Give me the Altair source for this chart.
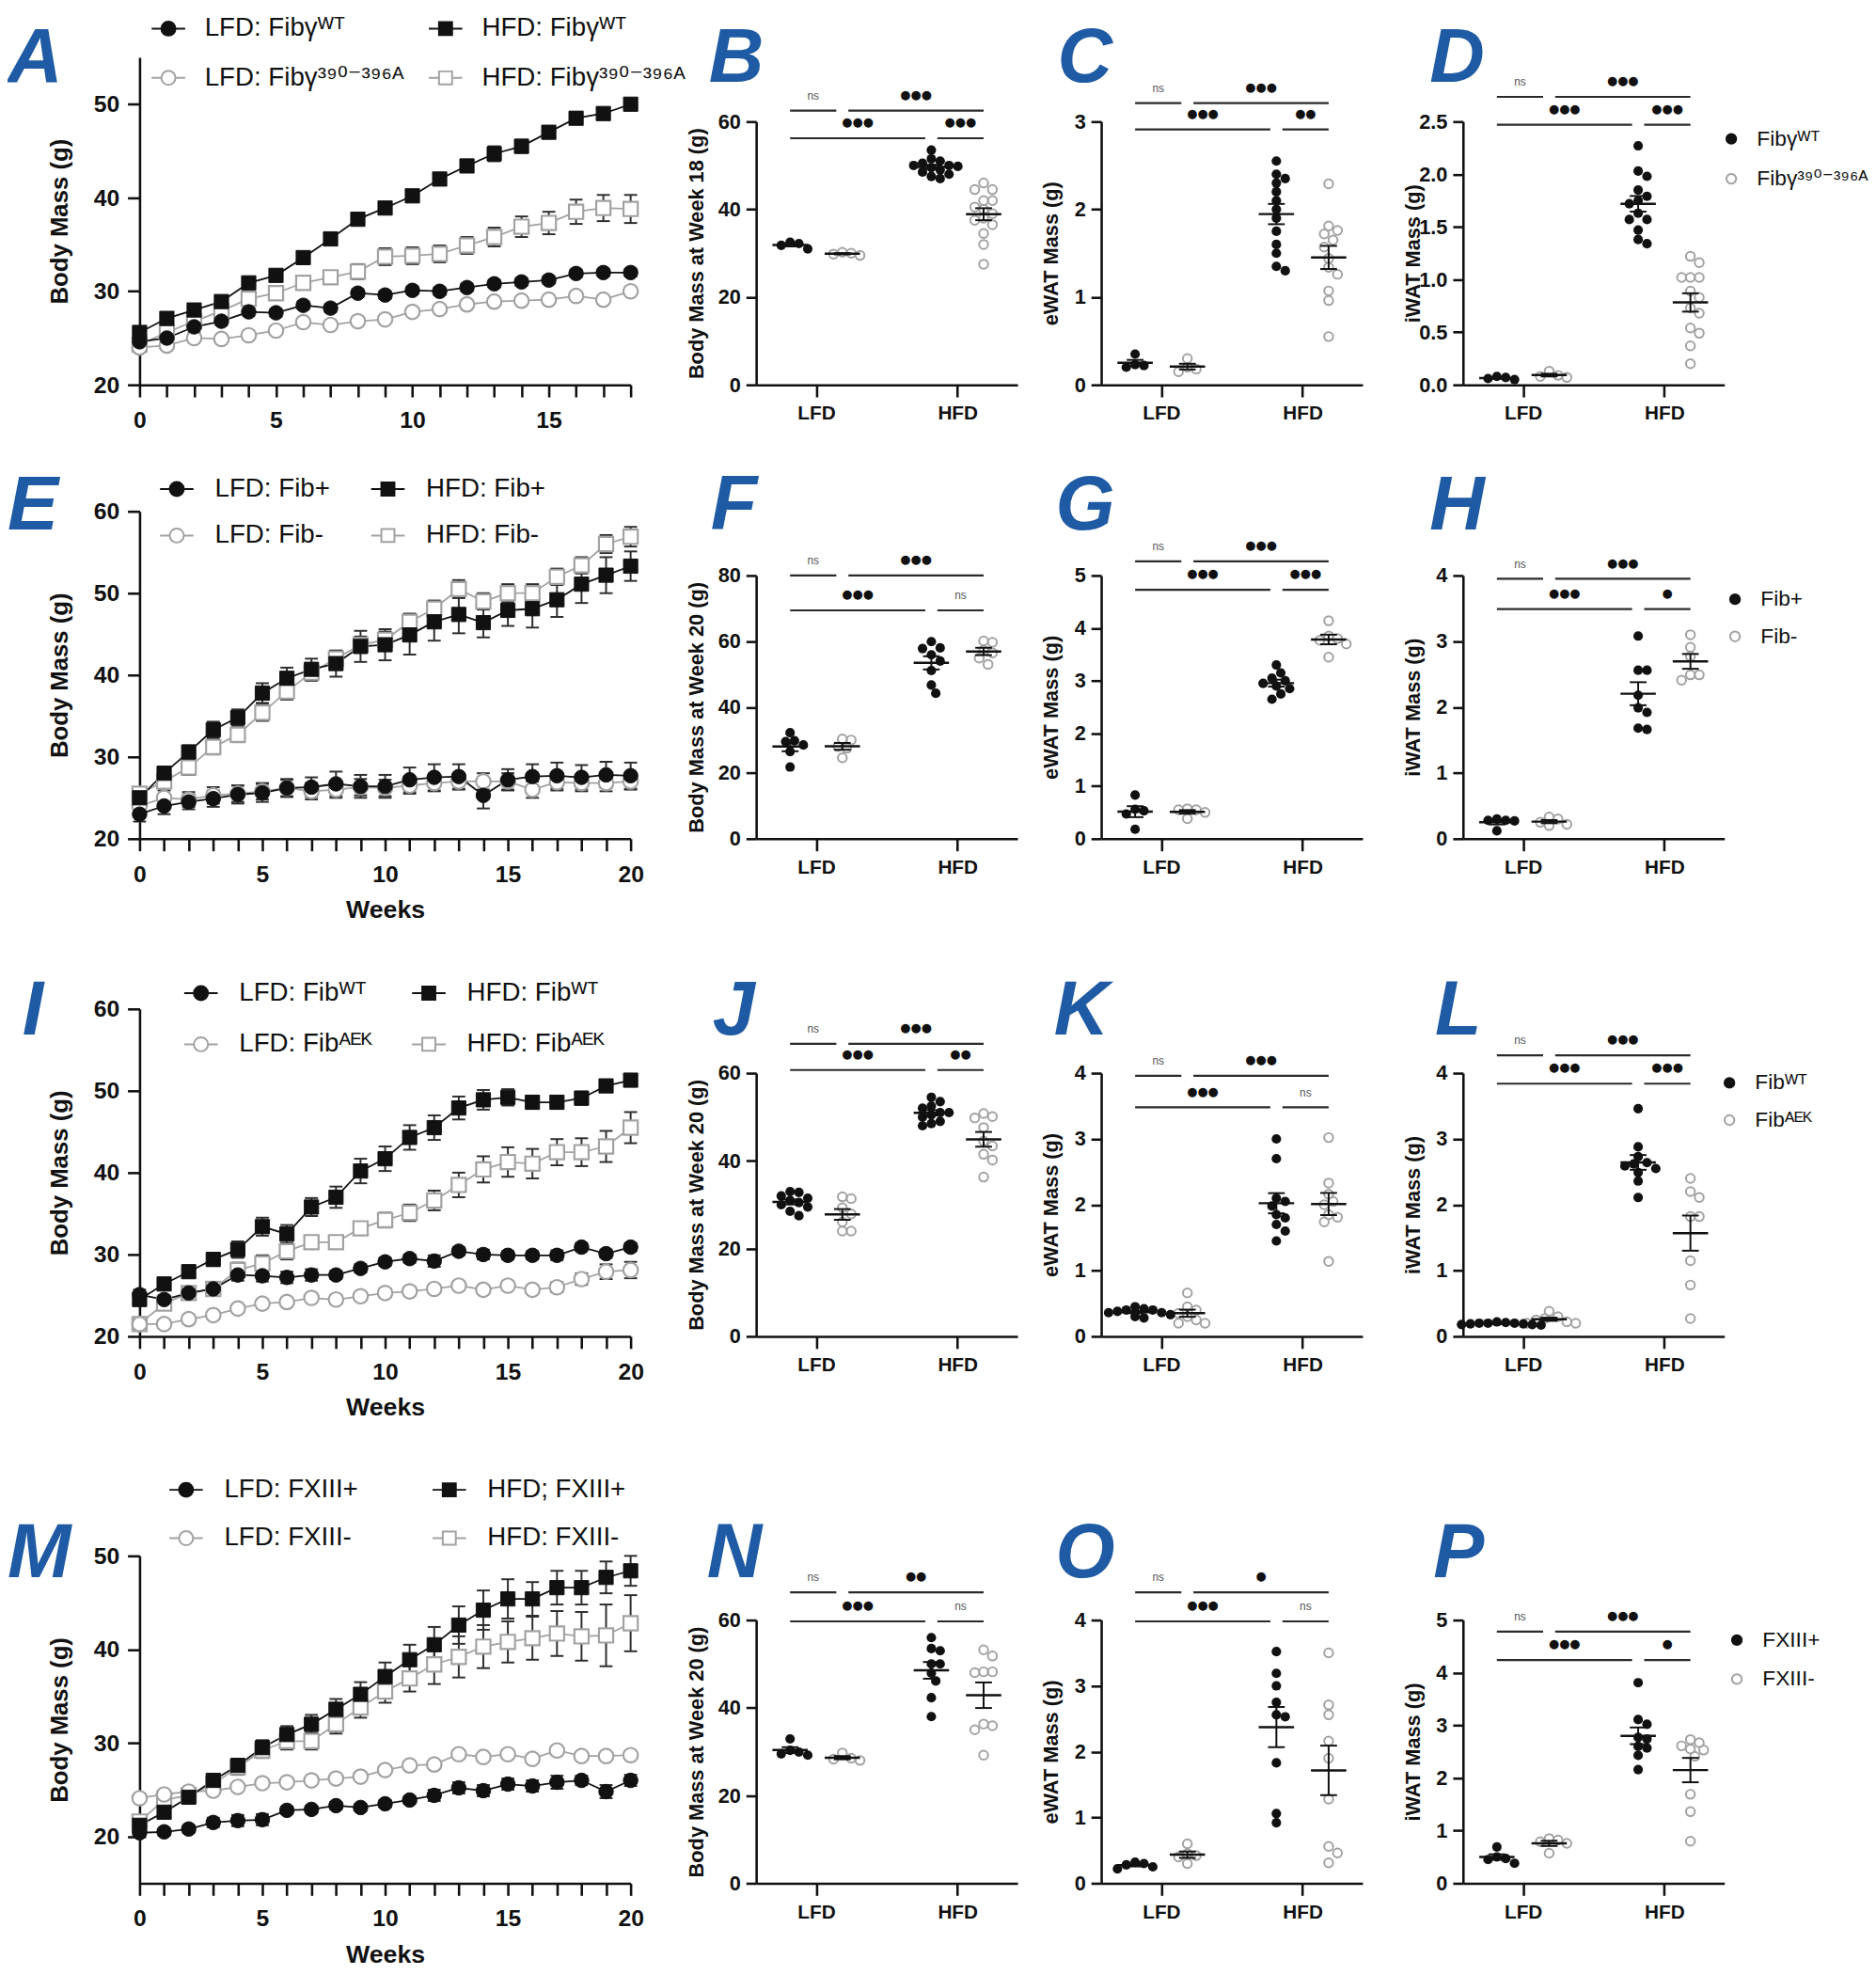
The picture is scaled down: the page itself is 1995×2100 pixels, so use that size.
import math
import altair as alt
import pandas as pd

# ----------------------------------------------------------------- data
WEEKS_18 = list(range(0, 19))
WEEKS_20 = list(range(0, 21))
DIETS = ["LFD", "HFD"]

# ---- A : Fibγ WT vs 390-396A (mean, SEM)
A_LFD_WT = [24.6, 25.0, 26.2, 26.8, 27.8, 27.7, 28.5, 28.2, 29.8, 29.6, 30.1, 30.0, 30.4, 30.8, 31.0, 31.2, 31.9, 32.0, 32.0]
A_LFD_WT_SEM = [0.4, 0.4, 0.6, 0.4, 0.4, 0.4, 0.4, 0.4, 0.4, 0.4, 0.4, 0.4, 0.4, 0.4, 0.4, 0.4, 0.4, 0.4, 0.4]
A_HFD_WT = [25.6, 27.1, 28.0, 28.9, 30.9, 31.7, 33.6, 35.6, 37.7, 38.9, 40.2, 42.0, 43.4, 44.7, 45.5, 47.0, 48.5, 49.0, 50.0]
A_HFD_WT_SEM = [0.4, 0.4, 0.4, 0.4, 0.5, 0.5, 0.5, 0.5, 0.5, 0.5, 0.6, 0.6, 0.6, 0.8, 0.7, 0.6, 0.6, 0.6, 0.6]
A_LFD_MUT = [24.0, 24.2, 25.0, 24.9, 25.3, 25.8, 26.7, 26.4, 26.8, 27.0, 27.8, 28.1, 28.6, 28.9, 29.0, 29.1, 29.5, 29.1, 30.0]
A_LFD_MUT_SEM = [0.3, 0.3, 0.3, 0.3, 0.3, 0.3, 0.3, 0.3, 0.3, 0.3, 0.3, 0.3, 0.3, 0.3, 0.3, 0.3, 0.3, 0.3, 0.3]
A_HFD_MUT = [24.3, 25.6, 26.8, 27.9, 29.2, 29.8, 30.9, 31.5, 32.1, 33.7, 33.8, 34.0, 34.9, 35.8, 36.9, 37.3, 38.5, 38.9, 38.8]
A_HFD_MUT_SEM = [0.4, 0.5, 0.7, 0.6, 0.6, 0.6, 0.6, 0.6, 0.8, 0.9, 0.9, 0.9, 0.9, 1.0, 1.1, 1.2, 1.3, 1.4, 1.5]

# ---- E : Fib+ vs Fib-
E_LFD_WT = [23.0, 24.0, 24.5, 24.9, 25.4, 25.6, 26.2, 26.3, 26.7, 26.4, 26.4, 27.2, 27.5, 27.6, 25.3, 27.2, 27.6, 27.7, 27.5, 27.8, 27.7]
E_LFD_WT_SEM = [0.9, 1.0, 0.9, 1.0, 1.1, 1.1, 1.1, 1.2, 1.5, 1.4, 1.4, 1.5, 1.6, 1.5, 1.6, 1.3, 1.5, 1.6, 1.5, 1.6, 1.6]
E_HFD_WT = [25.0, 28.0, 30.6, 33.3, 34.8, 37.8, 39.6, 40.7, 41.4, 43.5, 43.7, 44.9, 46.5, 47.4, 46.4, 47.9, 48.1, 49.2, 51.1, 52.2, 53.3]
E_HFD_WT_SEM = [0.8, 0.8, 0.8, 1.0, 1.0, 1.2, 1.3, 1.3, 1.6, 1.9, 1.9, 2.4, 2.3, 2.3, 1.8, 1.9, 2.3, 2.1, 2.3, 2.2, 1.8]
E_LFD_MUT = [24.0, 25.0, 24.8, 25.3, 25.5, 25.8, 26.2, 25.8, 26.0, 26.3, 26.2, 26.5, 26.8, 27.0, 27.0, 27.0, 26.0, 26.9, 26.8, 26.8, 27.0]
E_LFD_MUT_SEM = [1.0, 0.9, 0.9, 1.0, 1.0, 1.0, 1.0, 1.0, 1.0, 1.0, 1.0, 1.0, 1.0, 1.0, 1.0, 1.0, 1.0, 1.0, 1.0, 1.0, 1.0]
E_HFD_MUT = [25.5, 27.0, 28.7, 31.2, 32.7, 35.4, 38.0, 40.3, 42.0, 43.7, 44.3, 46.5, 48.1, 50.5, 49.0, 50.0, 50.0, 52.0, 53.4, 56.0, 56.9]
E_HFD_MUT_SEM = [0.8, 0.8, 0.9, 0.9, 0.9, 1.0, 1.0, 1.0, 0.9, 1.0, 1.0, 1.0, 1.0, 1.1, 1.0, 1.1, 1.1, 1.0, 1.0, 1.1, 1.2]

# ---- I : FibWT vs FibAEK
I_LFD_WT = [25.1, 24.5, 25.3, 25.8, 27.5, 27.4, 27.2, 27.5, 27.5, 28.3, 29.1, 29.5, 29.2, 30.4, 30.0, 29.9, 29.9, 29.9, 30.9, 30.1, 30.9]
I_LFD_WT_SEM = [0.6, 0.5, 0.5, 0.6, 0.7, 0.7, 0.7, 0.7, 0.5, 0.5, 0.5, 0.5, 0.7, 0.5, 0.6, 0.5, 0.5, 0.6, 0.5, 0.5, 0.5]
I_HFD_WT = [24.5, 26.4, 27.9, 29.4, 30.6, 33.4, 32.5, 35.8, 37.0, 40.2, 41.7, 44.3, 45.5, 47.9, 48.9, 49.2, 48.6, 48.6, 49.1, 50.6, 51.3]
I_HFD_WT_SEM = [0.7, 0.7, 0.7, 0.8, 1.0, 1.1, 1.1, 1.1, 1.3, 1.5, 1.5, 1.5, 1.5, 1.4, 1.2, 1.0, 0.8, 0.8, 0.8, 0.7, 0.6]
I_LFD_MUT = [21.5, 21.5, 22.1, 22.6, 23.4, 24.0, 24.2, 24.7, 24.5, 24.9, 25.3, 25.5, 25.8, 26.2, 25.7, 26.2, 25.7, 26.0, 27.0, 27.9, 28.1]
I_LFD_MUT_SEM = [0.6, 0.5, 0.5, 0.5, 0.5, 0.5, 0.5, 0.5, 0.5, 0.5, 0.5, 0.5, 0.5, 0.5, 0.5, 0.5, 0.5, 0.6, 0.7, 0.9, 1.0]
I_HFD_MUT = [21.5, 24.0, 25.3, 25.8, 28.1, 28.9, 30.4, 31.5, 31.5, 33.2, 34.2, 35.1, 36.6, 38.5, 40.4, 41.3, 41.1, 42.5, 42.5, 43.2, 45.5]
I_HFD_MUT_SEM = [0.6, 0.6, 0.7, 0.8, 0.9, 1.0, 1.0, 0.8, 0.8, 0.8, 0.9, 1.0, 1.2, 1.5, 1.6, 1.8, 1.8, 1.6, 1.7, 1.9, 1.9]

# ---- M : FXIII+ vs FXIII-
M_LFD_WT = [20.4, 20.5, 20.8, 21.5, 21.7, 21.8, 22.8, 22.9, 23.3, 23.1, 23.5, 23.9, 24.4, 25.2, 24.9, 25.6, 25.4, 25.8, 26.0, 24.8, 26.0]
M_LFD_WT_SEM = [0.5, 0.4, 0.4, 0.5, 0.6, 0.6, 0.4, 0.4, 0.4, 0.4, 0.4, 0.4, 0.6, 0.6, 0.6, 0.6, 0.6, 0.7, 0.5, 0.7, 0.6]
M_HFD_WT = [21.2, 22.6, 24.2, 26.0, 27.6, 29.5, 30.9, 32.0, 33.6, 35.2, 37.1, 38.9, 40.5, 42.6, 44.2, 45.4, 45.4, 46.6, 46.6, 47.7, 48.4]
M_HFD_WT_SEM = [0.6, 0.6, 0.6, 0.6, 0.7, 0.8, 0.9, 1.0, 1.1, 1.3, 1.5, 1.6, 1.9, 2.0, 2.1, 2.1, 1.8, 1.8, 1.8, 1.7, 1.6]
M_LFD_MUT = [24.1, 24.5, 24.8, 24.9, 25.3, 25.7, 25.8, 26.0, 26.2, 26.4, 27.1, 27.6, 27.7, 28.8, 28.5, 28.8, 28.3, 29.2, 28.6, 28.6, 28.7]
M_LFD_MUT_SEM = [0.4, 0.4, 0.4, 0.4, 0.4, 0.4, 0.4, 0.4, 0.4, 0.4, 0.4, 0.4, 0.4, 0.4, 0.4, 0.4, 0.4, 0.4, 0.4, 0.4, 0.4]
M_HFD_MUT = [21.6, 23.9, 24.4, 25.6, 27.4, 29.2, 30.2, 30.2, 32.0, 33.8, 35.5, 36.9, 38.4, 39.2, 40.3, 40.8, 41.2, 41.7, 41.4, 41.5, 42.8]
M_HFD_MUT_SEM = [0.6, 0.6, 0.6, 0.7, 0.8, 0.8, 0.9, 0.9, 1.0, 1.1, 1.2, 1.4, 2.1, 2.2, 2.3, 2.2, 2.3, 2.4, 2.6, 3.3, 3.0]

# legend order: LFD-WT, LFD-MUT, HFD-WT, HFD-MUT
LABELS_A = ["LFD: Fibγᵂᵀ", "LFD: Fibγ³⁹⁰⁻³⁹⁶ᴬ", "HFD: Fibγᵂᵀ", "HFD: Fibγ³⁹⁰⁻³⁹⁶ᴬ"]
LABELS_E = ["LFD: Fib+", "LFD: Fib-", "HFD: Fib+", "HFD: Fib-"]
LABELS_I = ["LFD: Fibᵂᵀ", "LFD: Fibᴬᴱᴷ", "HFD: Fibᵂᵀ", "HFD: Fibᴬᴱᴷ"]
LABELS_M = ["LFD: FXIII+", "LFD: FXIII-", "HFD; FXIII+", "HFD: FXIII-"]

GENO_A = ["Fibγᵂᵀ", "Fibγ³⁹⁰⁻³⁹⁶ᴬ"]
GENO_E = ["Fib+", "Fib-"]
GENO_I = ["Fibᵂᵀ", "Fibᴬᴱᴷ"]
GENO_M = ["FXIII+", "FXIII-"]

# ---- dot plots: order LFD-WT, LFD-MUT, HFD-WT, HFD-MUT
B_LFD_WT = [31.0, 32.2, 32.5, 31.8]
B_LFD_MUT = [29.5, 30.0, 30.2, 29.8]
B_HFD_WT = [53.5, 51.5, 51.0, 50.5, 50.0, 50.0, 49.5, 49.0, 48.5, 48.0, 47.5, 47.0, 49.8]
B_HFD_MUT = [46.0, 44.5, 44.5, 42.0, 42.0, 40.5, 40.0, 39.0, 38.0, 37.5, 36.5, 34.5, 32.0, 27.5]
C_LFD_WT = [0.22, 0.35, 0.20, 0.23]
C_LFD_MUT = [0.18, 0.30, 0.15, 0.20]
C_HFD_WT = [2.55, 2.40, 2.35, 2.30, 2.20, 2.10, 2.00, 1.90, 1.75, 1.60, 1.50, 1.35, 1.30]
C_HFD_MUT = [2.29, 1.81, 1.76, 1.72, 1.65, 1.57, 1.44, 1.34, 1.26, 1.07, 0.96, 0.55]
D_LFD_WT = [0.06, 0.08, 0.07, 0.05]
D_LFD_MUT = [0.13, 0.08, 0.09, 0.07]
D_HFD_WT = [2.27, 2.03, 1.98, 1.85, 1.79, 1.75, 1.72, 1.63, 1.57, 1.57, 1.47, 1.38, 1.34]
D_HFD_MUT = [1.22, 1.16, 1.02, 1.02, 1.02, 0.89, 0.83, 0.73, 0.68, 0.54, 0.49, 0.37, 0.20]

F_LFD_WT = [32.2, 29.8, 29.5, 28.5, 26.5, 21.8]
F_LFD_MUT = [30.3, 30.0, 28.0, 27.5, 24.6]
F_HFD_WT = [59.9, 57.8, 58.0, 55.9, 54.0, 51.1, 46.7, 44.2]
F_HFD_MUT = [60.1, 59.7, 57.3, 56.5, 54.9, 53.0]
G_LFD_WT = [0.83, 0.56, 0.53, 0.47, 0.18]
G_LFD_MUT = [0.57, 0.55, 0.55, 0.50, 0.38]
G_HFD_WT = [3.30, 3.15, 3.05, 3.00, 2.95, 2.90, 2.85, 2.75, 2.65]
G_HFD_MUT = [4.14, 3.85, 3.80, 3.77, 3.70, 3.45]
H_LFD_WT = [0.30, 0.28, 0.28, 0.27, 0.12]
H_LFD_MUT = [0.33, 0.30, 0.25, 0.22, 0.20]
H_HFD_WT = [3.08, 2.56, 2.56, 2.18, 1.92, 1.99, 1.66, 1.68]
H_HFD_MUT = [3.10, 2.91, 2.77, 2.49, 2.49, 2.41]

J_LFD_WT = [33.0, 32.8, 32.0, 31.5, 31.0, 30.5, 30.0, 29.5, 28.5, 27.5]
J_LFD_MUT = [31.8, 31.4, 29.3, 27.9, 26.1, 24.0, 24.0]
J_HFD_WT = [54.5, 53.5, 52.5, 52.0, 51.0, 51.0, 50.5, 50.0, 49.0, 48.5, 48.0]
J_HFD_MUT = [50.8, 50.1, 49.8, 47.6, 44.5, 43.4, 41.5, 40.2, 36.3]
K_LFD_WT = [0.45, 0.42, 0.40, 0.40, 0.38, 0.36, 0.36, 0.33, 0.30, 0.28]
K_LFD_MUT = [0.66, 0.45, 0.40, 0.35, 0.30, 0.25, 0.20, 0.20]
K_HFD_WT = [3.00, 2.70, 2.10, 2.05, 1.98, 1.85, 1.80, 1.70, 1.60, 1.45]
K_HFD_MUT = [3.02, 2.33, 2.16, 2.05, 2.00, 1.85, 1.81, 1.74, 1.14]
L_LFD_WT = [0.22, 0.21, 0.20, 0.20, 0.20, 0.19, 0.19, 0.18, 0.18, 0.17]
L_LFD_MUT = [0.38, 0.30, 0.27, 0.25, 0.22, 0.20, 0.20]
L_HFD_WT = [3.46, 2.88, 2.73, 2.64, 2.62, 2.59, 2.55, 2.49, 2.36, 2.11]
L_HFD_MUT = [2.40, 2.20, 2.11, 1.82, 1.82, 1.15, 0.78, 0.27]

N_LFD_WT = [32.9, 30.3, 29.9, 29.5, 29.2]
N_LFD_MUT = [29.7, 28.5, 28.3, 28.0]
N_HFD_WT = [56.0, 53.0, 53.5, 50.0, 50.0, 47.9, 46.1, 42.3, 38.0]
N_HFD_MUT = [53.2, 51.8, 48.0, 48.2, 48.2, 36.3, 35.9, 35.0, 29.2]
O_LFD_WT = [0.32, 0.30, 0.28, 0.25, 0.22]
O_LFD_MUT = [0.60, 0.45, 0.42, 0.40, 0.30]
O_HFD_WT = [3.52, 3.19, 3.00, 2.75, 2.56, 2.53, 1.83, 1.06, 0.92]
O_HFD_MUT = [3.50, 2.71, 2.56, 2.16, 1.90, 1.28, 0.56, 0.46, 0.31]
P_LFD_WT = [0.69, 0.50, 0.47, 0.45, 0.38]
P_LFD_MUT = [0.85, 0.82, 0.79, 0.76, 0.57]
P_HFD_WT = [3.81, 3.11, 3.02, 2.77, 2.74, 2.60, 2.57, 2.43, 2.16]
P_HFD_MUT = [2.73, 2.67, 2.61, 2.55, 2.53, 2.41, 1.69, 1.36, 0.80]

# significance: LFD-WT vs LFD-MUT, LFD-MUT vs HFD-MUT, LFD-WT vs HFD-WT, HFD-WT vs HFD-MUT
SIG_B = ["ns", "●●●", "●●●", "●●●"]; SIG_Y_B = [62.5, 56.2]
SIG_C = ["ns", "●●●", "●●●", "●●"]; SIG_Y_C = [3.21, 2.91]
SIG_D = ["ns", "●●●", "●●●", "●●●"]; SIG_Y_D = [2.735, 2.47]
SIG_F = ["ns", "●●●", "●●●", "ns"]; SIG_Y_F = [80.0, 69.4]
SIG_G = ["ns", "●●●", "●●●", "●●●"]; SIG_Y_G = [5.27, 4.73]
SIG_H = ["ns", "●●●", "●●●", "●"]; SIG_Y_H = [3.95, 3.49]
SIG_J = ["ns", "●●●", "●●●", "●●"]; SIG_Y_J = [66.7, 60.7]
SIG_K = ["ns", "●●●", "●●●", "ns"]; SIG_Y_K = [3.96, 3.48]
SIG_L = ["ns", "●●●", "●●●", "●●●"]; SIG_Y_L = [4.27, 3.84]
SIG_N = ["ns", "●●", "●●●", "ns"]; SIG_Y_N = [66.3, 59.7]
SIG_O = ["ns", "●", "●●●", "ns"]; SIG_Y_O = [4.42, 3.98]
SIG_P = ["ns", "●●●", "●●●", "●"]; SIG_Y_P = [4.78, 4.24]

# ----------------------------------------------------------------- style / layout
FONT = "Liberation Sans, DejaVu Sans"
INK = "#111111"
GRAY = "#a2a2a2"
ERR = "#2e2e2e"
BLUE = "#1f5ba4"

LINE_W = 528
LINE_EXT = 45
DOT_W = 281
DOT_EXT3 = 18
BASE_H = 352
DOT_TOP = 69
ROW_EXTRA = [50, 50, 97, 150]
ROW_SP = 86
COL_SP = 90
TITLE_BASE = 80
LETTER_Y = [78, 72, 126, 175]

OFF = 0.185
XDOM = [-0.425, 1.425]
PXU = DOT_W / (XDOM[1] - XDOM[0])
GAP = 6.5 / PXU
MEAN_HW = 19 / PXU
CAP_HW = 9 / PXU

SEG = "M-1,0L-0.42,0M0.42,0L1,0"
CIRC = "M-0.42,0A0.42,0.42,0,1,1,0.42,0A0.42,0.42,0,1,1,-0.42,0Z"
SQR = "M-0.39,-0.39L0.39,-0.39L0.39,0.39L-0.39,0.39Z"


def letter_title(txt, dx, row):
    return alt.TitleParams(text=txt, anchor="start", frame="group", orient="top", offset=0,
                           dx=dx, dy=LETTER_Y[row] + TITLE_BASE, baseline="alphabetic",
                           font=FONT, fontSize=82, fontStyle="italic", fontWeight="bold",
                           color=BLUE)


def swarm_offsets(vals, ppu, d):
    order = sorted(range(len(vals)), key=lambda i: -vals[i])
    placed, off = [], [0.0] * len(vals)
    for i in order:
        y = vals[i] * ppu
        k = 0
        while True:
            cands = [0.0] if k == 0 else [k * d * 0.5, -k * d * 0.5]
            hit = None
            for cx in cands:
                if all((cx - px) ** 2 + (y - py) ** 2 >= 0.9 * d * d for px, py in placed):
                    hit = cx
                    break
            if hit is not None:
                break
            k += 1
        off[i] = hit
        placed.append((hit, y))
    return off


def line_panel(letter, dx, row, weeks, series, labels, ydom, yticks, leg, xtitle):
    extra = ROW_EXTRA[row]
    H = BASE_H + extra
    xmax = weeks[-1]
    cap = 7.0 * xmax / LINE_W
    rows = []
    for key, (mean, sem) in zip(["lw", "lm", "hw", "hm"], series):
        for w, m, s in zip(weeks, mean, sem):
            rows.append({"s": key, "w": w, "wl": w - cap, "wr": w + cap, "m": m, "lo": m - s, "hi": m + s})
    df = pd.DataFrame(rows)
    xsc = alt.Scale(domain=[0, xmax], range=[0, LINE_W], nice=False, zero=False)
    ysc = alt.Scale(domain=ydom, range=[H, extra], nice=False, zero=False)
    xkw = dict(values=weeks, labelExpr="datum.value % 5 === 0 ? datum.label : ''",
               labelFontSize=25, labelPadding=13, tickSize=13, labelFlush=False,
               labelOverlap=False, grid=False)
    if xtitle:
        xkw.update(title=xtitle, titleFontSize=27, titleX=LINE_W / 2, titleY=77,
                   titleAlign="center", titleBaseline="middle")
    else:
        xkw.update(title=None)
    xax = alt.Axis(**xkw)
    yax = alt.Axis(values=yticks, title="Body Mass (g)", labelFontSize=25, labelPadding=9,
                   tickSize=13, titleFontSize=26, titleX=-86, titleY=(H + extra) / 2,
                   titleAlign="center", titleBaseline="middle", titleAngle=-90,
                   labelFlush=False, grid=False)

    def X(f):
        return alt.X(f, type="quantitative", scale=xsc, axis=xax)

    def Y(f):
        return alt.Y(f, type="quantitative", scale=ysc, axis=yax)

    base = alt.Chart(df)
    layers = []
    order = ["hm", "lm", "hw", "lw"]
    for key in order:
        b = base.transform_filter(alt.datum.s == key)
        layers.append(b.mark_rule(color=ERR, strokeWidth=2).encode(x=X("w"), y=Y("lo"), y2="hi"))
        layers.append(b.mark_rule(color=ERR, strokeWidth=2).encode(x=X("wl"), x2="wr", y=Y("lo")))
        layers.append(b.mark_rule(color=ERR, strokeWidth=2).encode(x=X("wl"), x2="wr", y=Y("hi")))
    for key in order:
        col = GRAY if key.endswith("m") else INK
        b = base.transform_filter(alt.datum.s == key)
        layers.append(b.mark_line(color=col, strokeWidth=1.8).encode(x=X("w"), y=Y("m")))
    for key in order:
        b = base.transform_filter(alt.datum.s == key)
        shp = "square" if key.startswith("h") else "circle"
        size = 235 if shp == "square" else 245
        if key.endswith("m"):
            mk = b.mark_point(shape=shp, filled=True, fill="white", stroke=GRAY, strokeWidth=2.2,
                              size=size, opacity=1)
        else:
            mk = b.mark_point(shape=shp, filled=True, fill=INK, stroke=INK, strokeWidth=1,
                              size=size, opacity=1)
        layers.append(mk.encode(x=X("w"), y=Y("m")))

    legend = alt.Legend(title=None, orient="none", legendX=leg[0], legendY=leg[1], columns=2,
                        columnPadding=leg[3], rowPadding=leg[2], symbolSize=1296,
                        symbolStrokeWidth=2, labelFont=FONT, labelFontSize=28,
                        labelColor=INK, labelOffset=leg[4], padding=0, labelLimit=400)
    ldf = pd.DataFrame({"lab": labels})
    leg_layer = alt.Chart(ldf).mark_point(filled=True, opacity=1).encode(
        shape=alt.Shape("lab:N", scale=alt.Scale(domain=labels, range=[SEG + CIRC, SEG + CIRC, SEG + SQR, SEG + SQR]), legend=legend),
        fill=alt.Fill("lab:N", scale=alt.Scale(domain=labels, range=[INK, "white", INK, "white"]), legend=legend),
        stroke=alt.Stroke("lab:N", scale=alt.Scale(domain=labels, range=[INK, GRAY, INK, GRAY]), legend=legend),
    ).transform_filter("false")
    layers.append(leg_layer)
    return alt.layer(*layers).properties(
        width=LINE_W + LINE_EXT, height=H, title=letter_title(letter, dx, row))


def dot_panel(letter, dx, row, groups, ymax, yticks, yfmt, ytitle, title_x, sig, sig_y,
              width, geno=None, leg=None):
    extra = ROW_EXTRA[row]
    H = BASE_H + extra
    top = extra + DOT_TOP
    ppu = (H - top) / ymax
    pts, stats = [], []
    for k, vals in enumerate(groups):
        ci, gi = divmod(k, 2)
        c = ci + (OFF if gi else -OFF)
        offs = swarm_offsets(vals, ppu, 9.5)
        for v, o in zip(vals, offs):
            pts.append({"x": c + o / PXU, "y": v, "g": gi})
        n = len(vals)
        m = sum(vals) / n
        sd = math.sqrt(sum((v - m) ** 2 for v in vals) / (n - 1))
        se = sd / math.sqrt(n)
        stats.append({"c": c, "ml": c - MEAN_HW, "mr": c + MEAN_HW, "cl": c - CAP_HW,
                      "cr": c + CAP_HW, "m": m, "lo": m - se, "hi": m + se})
    pdf = pd.DataFrame(pts)
    sdf = pd.DataFrame(stats)
    lw, lm, hw, hm = -OFF, OFF, 1 - OFF, 1 + OFF
    bars = [(lw, lm - GAP, sig_y[0], sig[0]), (lm + GAP, hm, sig_y[0], sig[1]),
            (lw, hw - GAP, sig_y[1], sig[2]), (hw + GAP, hm, sig_y[1], sig[3])]
    gdf = pd.DataFrame([{"x1": a, "x2": b, "tx": (a + b) / 2, "y": y, "t": t} for a, b, y, t in bars])

    xsc = alt.Scale(domain=XDOM, range=[0, DOT_W], nice=False, zero=False)
    ysc = alt.Scale(domain=[0, ymax], range=[H, top], nice=False, zero=False)
    xax = alt.Axis(values=[0, 1], labelExpr=f"datum.value < 0.5 ? '{DIETS[0]}' : '{DIETS[1]}'",
                   title=None, labelFontSize=21, labelPadding=7, tickSize=13,
                   labelFlush=False, labelOverlap=False, grid=False)
    yax = alt.Axis(values=yticks, format=yfmt, title=ytitle, labelFontSize=22, labelPadding=6,
                   tickSize=11, titleFontSize=22, titleX=title_x, titleY=(H + top) / 2,
                   titleAlign="center", titleBaseline="middle", titleAngle=-90,
                   labelFlush=False, grid=False)

    def X(f):
        return alt.X(f, type="quantitative", scale=xsc, axis=xax)

    def Y(f):
        return alt.Y(f, type="quantitative", scale=ysc, axis=yax)

    P = alt.Chart(pdf)
    S = alt.Chart(sdf)
    G = alt.Chart(gdf)
    layers = [
        P.transform_filter(alt.datum.g == 1).mark_point(shape="circle", filled=False, color=GRAY,
                                                         strokeWidth=2, size=92, opacity=1).encode(x=X("x"), y=Y("y")),
        P.transform_filter(alt.datum.g == 0).mark_point(shape="circle", filled=True, color=INK,
                                                         size=105, opacity=1).encode(x=X("x"), y=Y("y")),
        S.mark_rule(color=INK, strokeWidth=2.5).encode(x=X("ml"), x2="mr", y=Y("m")),
        S.mark_rule(color=INK, strokeWidth=2).encode(x=X("c"), y=Y("lo"), y2="hi"),
        S.mark_rule(color=INK, strokeWidth=2).encode(x=X("cl"), x2="cr", y=Y("lo")),
        S.mark_rule(color=INK, strokeWidth=2).encode(x=X("cl"), x2="cr", y=Y("hi")),
        G.mark_rule(color="#2a2a2a", strokeWidth=2.2).encode(x=X("x1"), x2="x2", y=Y("y")),
        G.transform_filter(alt.datum.t != "ns").mark_text(font="DejaVu Sans", fontSize=13,
                                                           color=INK, baseline="middle", dy=-17).encode(
            x=X("tx"), y=Y("y"), text="t:N"),
        G.transform_filter(alt.datum.t == "ns").mark_text(font=FONT, fontSize=12, color="#555555",
                                                           baseline="alphabetic", dy=-12).encode(
            x=X("tx"), y=Y("y"), text="t:N"),
    ]
    if geno is not None:
        legend = alt.Legend(title=None, orient="none", legendX=leg[0], legendY=leg[1],
                            direction="vertical", rowPadding=leg[2], symbolSize=110,
                            symbolStrokeWidth=2, labelFont=FONT, labelFontSize=23,
                            labelColor=INK, labelOffset=16, padding=0, labelLimit=300)
        ldf = pd.DataFrame({"lab": geno})
        layers.append(alt.Chart(ldf).mark_point(filled=True, opacity=1).encode(
            shape=alt.Shape("lab:N", scale=alt.Scale(domain=geno, range=["circle", "circle"]), legend=legend),
            fill=alt.Fill("lab:N", scale=alt.Scale(domain=geno, range=[INK, "white"]), legend=legend),
            stroke=alt.Stroke("lab:N", scale=alt.Scale(domain=geno, range=[INK, GRAY]), legend=legend),
        ).transform_filter("false"))
    return alt.layer(*layers).properties(width=width, height=H,
                                         title=letter_title(letter, dx, row))


W3 = DOT_W + DOT_EXT3
charts = [
    line_panel("A", -142, 0, WEEKS_18,
               [(A_LFD_WT, A_LFD_WT_SEM), (A_LFD_MUT, A_LFD_MUT_SEM), (A_HFD_WT, A_HFD_WT_SEM), (A_HFD_MUT, A_HFD_MUT_SEM)],
               LABELS_A, [20, 55], [20, 30, 40, 50], (12, 0, 20, 22, 20), None),
    dot_panel("B", -51, 0, [B_LFD_WT, B_LFD_MUT, B_HFD_WT, B_HFD_MUT], 60, [0, 20, 40, 60], "d",
              "Body Mass at Week 18 (g)", -64, SIG_B, SIG_Y_B, DOT_W),
    dot_panel("C", -47, 0, [C_LFD_WT, C_LFD_MUT, C_HFD_WT, C_HFD_MUT], 3, [0, 1, 2, 3], "d",
              "eWAT Mass (g)", -54, SIG_C, SIG_Y_C, W3),
    dot_panel("D", -36, 0, [D_LFD_WT, D_LFD_MUT, D_HFD_WT, D_HFD_MUT], 2.5, [0, 0.5, 1, 1.5, 2, 2.5], ".1f",
              "iWAT Mass (g)", -54, SIG_D, SIG_Y_D, DOT_W, GENO_A, (277, 126, 19)),
    line_panel("E", -142, 1, WEEKS_20,
               [(E_LFD_WT, E_LFD_WT_SEM), (E_LFD_MUT, E_LFD_MUT_SEM), (E_HFD_WT, E_HFD_WT_SEM), (E_HFD_MUT, E_HFD_MUT_SEM)],
               LABELS_E, [20, 60], [20, 30, 40, 50, 60], (21, 7, 17, 40, 22), "Weeks"),
    dot_panel("F", -49, 1, [F_LFD_WT, F_LFD_MUT, F_HFD_WT, F_HFD_MUT], 80, [0, 20, 40, 60, 80], "d",
              "Body Mass at Week 20 (g)", -64, SIG_F, SIG_Y_F, DOT_W),
    dot_panel("G", -49, 1, [G_LFD_WT, G_LFD_MUT, G_HFD_WT, G_HFD_MUT], 5, [0, 1, 2, 3, 4, 5], "d",
              "eWAT Mass (g)", -54, SIG_G, SIG_Y_G, W3),
    dot_panel("H", -36, 1, [H_LFD_WT, H_LFD_MUT, H_HFD_WT, H_HFD_MUT], 4, [0, 1, 2, 3, 4], "d",
              "iWAT Mass (g)", -54, SIG_H, SIG_Y_H, DOT_W, GENO_E, (281, 133, 16)),
    line_panel("I", -126, 2, WEEKS_20,
               [(I_LFD_WT, I_LFD_WT_SEM), (I_LFD_MUT, I_LFD_MUT_SEM), (I_HFD_WT, I_HFD_WT_SEM), (I_HFD_MUT, I_HFD_MUT_SEM)],
               LABELS_I, [20, 60], [20, 30, 40, 50, 60], (47, 61, 22, 38, 22), "Weeks"),
    dot_panel("J", -47, 2, [J_LFD_WT, J_LFD_MUT, J_HFD_WT, J_HFD_MUT], 60, [0, 20, 40, 60], "d",
              "Body Mass at Week 20 (g)", -64, SIG_J, SIG_Y_J, DOT_W),
    dot_panel("K", -51, 2, [K_LFD_WT, K_LFD_MUT, K_HFD_WT, K_HFD_MUT], 4, [0, 1, 2, 3, 4], "d",
              "eWAT Mass (g)", -54, SIG_K, SIG_Y_K, W3),
    dot_panel("L", -30, 2, [L_LFD_WT, L_LFD_MUT, L_HFD_WT, L_HFD_MUT], 4, [0, 1, 2, 3, 4], "d",
              "iWAT Mass (g)", -54, SIG_L, SIG_Y_L, DOT_W, GENO_I, (275, 165, 16)),
    line_panel("M", -142, 3, WEEKS_20,
               [(M_LFD_WT, M_LFD_WT_SEM), (M_LFD_MUT, M_LFD_MUT_SEM), (M_HFD_WT, M_HFD_WT_SEM), (M_HFD_MUT, M_HFD_MUT_SEM)],
               LABELS_M, [15, 50], [20, 30, 40, 50], (31, 60, 19, 76, 22), "Weeks"),
    dot_panel("N", -53, 3, [N_LFD_WT, N_LFD_MUT, N_HFD_WT, N_HFD_MUT], 60, [0, 20, 40, 60], "d",
              "Body Mass at Week 20 (g)", -64, SIG_N, SIG_Y_N, DOT_W),
    dot_panel("O", -49, 3, [O_LFD_WT, O_LFD_MUT, O_HFD_WT, O_HFD_MUT], 4, [0, 1, 2, 3, 4], "d",
              "eWAT Mass (g)", -54, SIG_O, SIG_Y_O, W3),
    dot_panel("P", -32, 3, [P_LFD_WT, P_LFD_MUT, P_HFD_WT, P_HFD_MUT], 5, [0, 1, 2, 3, 4, 5], "d",
              "iWAT Mass (g)", -54, SIG_P, SIG_Y_P, DOT_W, GENO_M, (283, 229, 18)),
]

chart = alt.concat(*charts, columns=4, spacing={"row": ROW_SP, "column": COL_SP},
                   bounds="flush", align="each").resolve_scale(
    shape="independent", fill="independent", stroke="independent"
).resolve_legend(
    shape="independent", fill="independent", stroke="independent"
).properties(
    padding={"top": -8, "left": 0, "right": 0, "bottom": 0}
).configure_view(stroke=None).configure_axis(
    labelFont=FONT, titleFont=FONT, labelFontWeight="bold", titleFontWeight="bold",
    labelColor=INK, titleColor=INK, domainColor=INK, tickColor=INK,
    domainWidth=2.6, tickWidth=2.6, grid=False
)

chart.save("out.html", embed_options={"renderer": "svg", "actions": False})
